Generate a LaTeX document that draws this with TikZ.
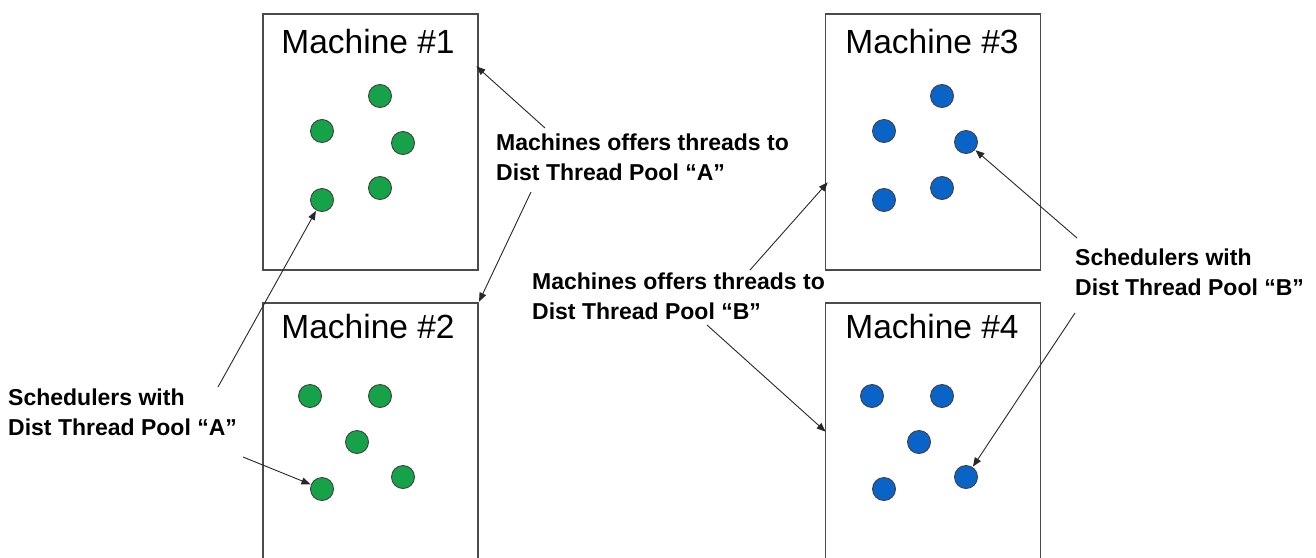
\documentclass[tikz,border=0pt]{standalone}
\usepackage{fontspec}
\setmainfont{Liberation Sans}
\usetikzlibrary{arrows.meta}
\definecolor{boxgray}{RGB}{75,75,75}
\definecolor{dotgreen}{RGB}{22,162,72}
\definecolor{dotblue}{RGB}{10,100,200}
\definecolor{arrgray}{RGB}{40,40,40}
\begin{document}
\begin{tikzpicture}[x=1pt,y=-1pt,
 box/.style={draw=boxgray, line width=1.6pt, inner sep=0pt, rectangle, minimum width=215pt},
 title/.style={font=\fontsize{33.5}{36}\selectfont, inner sep=0pt},
 gdot/.style={circle, fill=dotgreen, draw=black!75, line width=0.9pt, minimum size=23pt, inner sep=0pt},
 bdot/.style={circle, fill=dotblue, draw=black!75, line width=0.9pt, minimum size=23pt, inner sep=0pt},
 lbl/.style={font=\bfseries\fontsize{23}{30}\selectfont, align=left, anchor=north west, inner sep=0pt},
 arr/.style={draw=arrgray, line width=0.9pt, -{Triangle[length=9pt,width=7pt]}, shorten >=0.5pt}]
\clip (0,0) rectangle (1316,557);
\fill[white] (0,0) rectangle (1316,557);
% machine boxes
\node[box, minimum height=256pt] (m1) at (370.5,142) {};
\node[box, minimum height=280pt] (m2) at (370.5,443) {};
\node[box, minimum height=256pt] (m3) at (933,142) {};
\node[box, minimum height=280pt] (m4) at (933,443) {};
% titles
\node[title] (t1) at (368,42) {Machine \#1};
\node[title] (t2) at (368,327) {Machine \#2};
\node[title] (t3) at (932,42) {Machine \#3};
\node[title] (t4) at (932,327) {Machine \#4};
% green dots
\node[gdot] (d1a) at (380,96) {};
\node[gdot] (d1b) at (322,131) {};
\node[gdot] (d1c) at (403,143) {};
\node[gdot] (d1d) at (322,200) {};
\node[gdot] (d1e) at (380,188) {};
\node[gdot] (d2a) at (310,396) {};
\node[gdot] (d2b) at (380,396) {};
\node[gdot] (d2c) at (357,442) {};
\node[gdot] (d2d) at (403,477) {};
\node[gdot] (d2e) at (322,489) {};
% blue dots
\node[bdot] (d3a) at (942,96) {};
\node[bdot] (d3b) at (884,131) {};
\node[bdot] (d3c) at (966,142) {};
\node[bdot] (d3d) at (884,200) {};
\node[bdot] (d3e) at (942,188) {};
\node[bdot] (d4a) at (872,396) {};
\node[bdot] (d4b) at (942,396) {};
\node[bdot] (d4c) at (919,442) {};
\node[bdot] (d4d) at (966,477) {};
\node[bdot] (d4e) at (884,489) {};
% labels
\node[lbl] (lA) at (496,134) {Machines offers threads to\\Dist Thread Pool “A”};
\node[lbl] (lB) at (532,273) {Machines offers threads to\\Dist Thread Pool “B”};
\node[lbl] (sA) at (8,389) {Schedulers with\\Dist Thread Pool “A”};
\node[lbl] (sB) at (1075,249) {Schedulers with\\Dist Thread Pool “B”};
% connector end points
\coordinate (s1) at (545,128);
\coordinate (e1) at (476,66);
\coordinate (s2) at (531,192);
\coordinate (s3) at (218,387);
\coordinate (s4) at (243,457);
\coordinate (s5) at (750,270);
\coordinate (e5) at (828,182);
\coordinate (s6) at (707,325);
\coordinate (e6) at (826,432);
\coordinate (s7) at (1077,238);
\coordinate (s8) at (1075,313);
% connectors
\draw[arr] (s1) -- (e1);
\draw[arr] (s2) -- (m2.north east);
\draw[arr] (s3) -- (d1d);
\draw[arr] (s4) -- (d2e);
\draw[arr] (s5) -- (e5);
\draw[arr] (s6) -- (e6);
\draw[arr] (s7) -- (d3c);
\draw[arr] (s8) -- (d4d);
\end{tikzpicture}
\end{document}
